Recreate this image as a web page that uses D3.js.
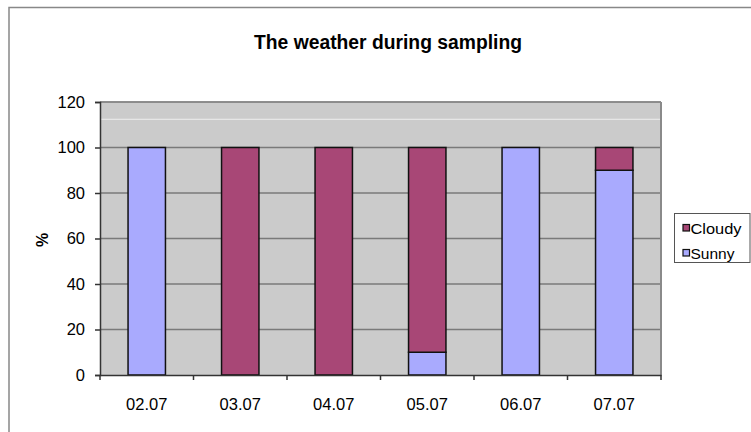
<!DOCTYPE html>
<html><head><meta charset="utf-8">
<script src="https://cdn.jsdelivr.net/npm/d3@7"></script>
<style>
html,body{margin:0;padding:0;background:#fff;}
svg{display:block;font-family:"Liberation Sans",Arial,Helvetica,sans-serif;}
</style></head>
<body>
<svg id="chart" width="751" height="432"></svg>
<script>
const categories = ["02.07","03.07","04.07","05.07","06.07","07.07"];
const sunny  = [100, 0, 0, 10, 100, 90];
const cloudy = [0, 100, 100, 90, 0, 10];
const yTicks = [0,20,40,60,80,100,120];
const seriesNames = ["Sunny","Cloudy"];
const colors = {Sunny:"#a9aafe", Cloudy:"#a84776"};
const title = "The weather during sampling";

const svg = d3.select("#chart");
const m = {left:100, right:661, top:102, bottom:375};

// outer frame
svg.append("rect").attr("x",9).attr("y",7.5).attr("width",760).attr("height",440)
  .attr("fill","none").attr("stroke","#888").attr("stroke-width",1.5);

const x = d3.scaleBand().domain(categories).range([m.left,m.right]).padding(0);
const y = d3.scaleLinear().domain([0,120]).range([m.bottom,m.top]);

// plot background
svg.append("rect").attr("x",m.left).attr("y",m.top).attr("width",m.right-m.left).attr("height",m.bottom-m.top)
  .attr("fill","#cbcbcb");

// gridlines
svg.append("g").selectAll("line").data(yTicks.filter(d=>d>0)).join("line")
  .attr("x1",m.left).attr("x2",m.right).attr("y1",d=>y(d)).attr("y2",d=>y(d))
  .attr("stroke","#7a7a7a").attr("stroke-width",1.5);
// scan artifact line
svg.append("line").attr("x1",m.left).attr("x2",m.right).attr("y1",y(112.4)).attr("y2",y(112.4))
  .attr("stroke","#eeeeee").attr("stroke-width",1);
// plot border right/top
svg.append("line").attr("x1",m.right).attr("x2",m.right).attr("y1",m.top).attr("y2",m.bottom)
  .attr("stroke","#8a8a8a").attr("stroke-width",2);
svg.append("line").attr("x1",m.left).attr("x2",m.right).attr("y1",m.top).attr("y2",m.top)
  .attr("stroke","#8a8a8a").attr("stroke-width",1.5);

// stacked bars
const table = categories.map((c,i)=>({cat:c, Sunny:sunny[i], Cloudy:cloudy[i]}));
const stack = d3.stack().keys(seriesNames)(table);
const bw = x.bandwidth()*0.4;
svg.append("g").selectAll("g").data(stack).join("g")
  .attr("fill",d=>colors[d.key])
  .selectAll("rect").data(d=>d.filter(p=>p[1]-p[0]>0)).join("rect")
  .attr("x",d=>x(d.data.cat)+x.bandwidth()/2-bw/2)
  .attr("width",bw)
  .attr("y",d=>y(d[1]))
  .attr("height",d=>y(d[0])-y(d[1]))
  .attr("stroke","#111").attr("stroke-width",1.5);

// y axis
const yAxis = svg.append("g").attr("transform",`translate(${m.left},0)`)
  .call(d3.axisLeft(y).tickValues(yTicks).tickSize(5).tickPadding(10));
yAxis.select(".domain").attr("stroke","#333").attr("stroke-width",1.5);
yAxis.selectAll(".tick line").attr("stroke","#333").attr("stroke-width",1.5);
yAxis.selectAll("text").attr("font-size",16.5).attr("fill","#000").attr("font-family","'Liberation Sans',Arial,sans-serif");

// x axis
const xAxis = svg.append("g").attr("transform",`translate(0,${m.bottom})`)
  .call(d3.axisBottom(x).tickSize(0).tickPadding(23));
xAxis.select(".domain").attr("stroke","#333").attr("stroke-width",1.5);
xAxis.selectAll("text").attr("font-size",16.5).attr("fill","#000").attr("font-family","'Liberation Sans',Arial,sans-serif");
// category boundary ticks
const bounds = d3.range(categories.length+1).map(i=>m.left+i*x.step());
svg.append("g").selectAll("line").data(bounds).join("line")
  .attr("x1",d=>d).attr("x2",d=>d).attr("y1",m.bottom).attr("y2",m.bottom+5)
  .attr("stroke","#333").attr("stroke-width",1.5);

// title
svg.append("text").attr("x",388).attr("y",49).attr("text-anchor","middle")
  .attr("font-size",19.5).attr("font-weight","bold").attr("textLength",268).attr("lengthAdjust","spacingAndGlyphs")
  .text(title);

// y label
svg.append("text").attr("transform","translate(48,240) rotate(-90)").attr("text-anchor","middle")
  .attr("font-size",16).attr("font-weight","bold").text("%");

// legend
const lg = svg.append("g");
lg.append("rect").attr("x",674.5).attr("y",213.5).attr("width",75.5).attr("height",49)
  .attr("fill","#fff").attr("stroke","#555").attr("stroke-width",1);
const legendItems = ["Cloudy","Sunny"];
legendItems.forEach((k,i)=>{
  const yy = 228 + i*25;
  lg.append("rect").attr("x",683).attr("y",yy-3.5).attr("width",6.5).attr("height",6.5)
    .attr("fill",colors[k]).attr("stroke","#111").attr("stroke-width",1.2);
  lg.append("text").attr("x",690.5).attr("y",yy+5.5).attr("font-size",15.5).attr("textLength",k==="Cloudy"?51:44).attr("lengthAdjust","spacingAndGlyphs").text(k);
});
</script>
</body></html>
